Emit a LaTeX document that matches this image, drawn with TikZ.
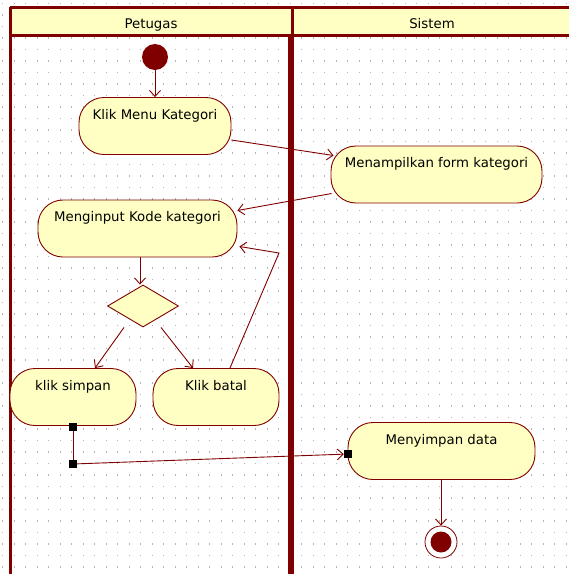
\documentclass[tikz,border=0pt]{standalone}
\usepackage{fontspec}
\setmainfont{DejaVu Sans}
\usetikzlibrary{positioning}
\usetikzlibrary{arrows.meta}
\usetikzlibrary{shapes.geometric}
\definecolor{laneColor}{RGB}{128,0,0}
\definecolor{actionFill}{RGB}{255,255,196}
\definecolor{dotColor}{RGB}{180,180,180}

\begin{document}
\begin{tikzpicture}[x=1pt,y=-1pt]

          \tikzstyle{laneLine} = [draw=laneColor, line width=3pt];
          \tikzstyle{laneHead} = [font=\fontsize{13.3}{15}\selectfont, anchor=base];
          \tikzstyle{actionNode} = [draw=laneColor, line width=0.9pt, fill=actionFill, rounded corners=25pt,
                                    inner ysep=0pt, text height=21.5pt, text depth=35.5pt,
                                    font=\fontsize{13.3}{15}\selectfont];
          \tikzstyle{decisionNode} = [diamond, draw=laneColor, line width=0.9pt, fill=actionFill,
                                      minimum width=71pt, minimum height=42pt, inner sep=0pt];
          \tikzstyle{startNode} = [circle, fill=laneColor, minimum size=26pt, inner sep=0pt];
          \tikzstyle{endNode} = [circle, draw=laneColor, line width=0.8pt, fill=white, minimum size=32pt, inner sep=0pt,
                                 path picture={\fill[laneColor] (path picture bounding box.center) circle (10.5pt);}];
          \tikzstyle{pinNode} = [rectangle, fill=black, minimum size=8pt, inner sep=0pt];
          \tikzstyle{flowEdge} = [draw=laneColor, line width=0.9pt];
          \tikzstyle{flowArrow} = [flowEdge, -{Straight Barb[length=6pt,width=11pt]}];

          \clip (0,0) rectangle (569,574);

          \foreach \i in {0,...,49}
            \foreach \j in {0,...,49}
              \fill[dotColor] (2.2+11.5*\i,2.8+11.5*\j) rectangle ++(1.2,1.2);

          \fill[actionFill] (10,7) rectangle (573,35);
          \draw[laneLine] (10,7) -- (573,7);
          \draw[laneLine] (10,35) -- (573,35);
          \draw[laneLine] (10,7) -- (10,580);
          \draw[laneLine] (292,7) -- (292,35);
          \draw[laneLine, line width=5.5pt] (291,35) -- (291,580);

          \node[laneHead] (petugas) at (151,28.5) {Petugas};
          \node[laneHead] (sistem) at (432,28.5) {Sistem};

          \node[startNode] (start) at (155,57) {};
          \node[actionNode, minimum width=152pt] (klikMenu) at (155,126) {Klik Menu Kategori};
          \node[actionNode, minimum width=211pt] (tampilForm) at (436.5,174.5) {Menampilkan form kategori};
          \node[actionNode, minimum width=199pt] (inputKode) at (137.5,228.5) {Menginput Kode kategori};
          \node[decisionNode] (pilih) at (143,306) {};
          \node[actionNode, minimum width=126pt] (simpan) at (73,397) {klik simpan};
          \node[actionNode, minimum width=126pt] (batal) at (216,397) {Klik batal};
          \node[actionNode, minimum width=187pt] (simpanData) at (441.5,451) {Menyimpan data};
          \node[endNode] (end) at (441,542) {};

          \node[pinNode] (pinA) at (73,427) {};
          \node[pinNode] (pinB) at (73,464) {};
          \node[pinNode] (pinC) at (348,454) {};
          \coordinate (balik) at (279,253);

          \draw[flowArrow] (start) -- (klikMenu);
          \draw[flowArrow] ([yshift=-14pt]klikMenu.east) -- ([shift={(3pt,19pt)}]tampilForm.west);
          \draw[flowArrow] ([shift={(1pt,-19pt)}]tampilForm.west) -- ([yshift=18pt]inputKode.east);
          \draw[flowArrow] (inputKode.south -| 140,0) -- (pilih.north -| 140,0);
          \draw[flowArrow] ([xshift=-19pt]pilih.south) -- ([xshift=22pt]simpan.north);
          \draw[flowArrow] ([xshift=18pt]pilih.south) -- ([xshift=-23pt]batal.north);
          \draw[flowArrow] ([xshift=14pt]batal.north) -- (balik) -- ([shift={(2pt,-18pt)}]inputKode.east);
          \draw[flowEdge] (pinA) -- (pinB);
          \draw[flowArrow] (pinB) -- (pinC);
          \draw[flowArrow] (simpanData.south -| end) -- (end);
        \end{tikzpicture}
\end{document}
